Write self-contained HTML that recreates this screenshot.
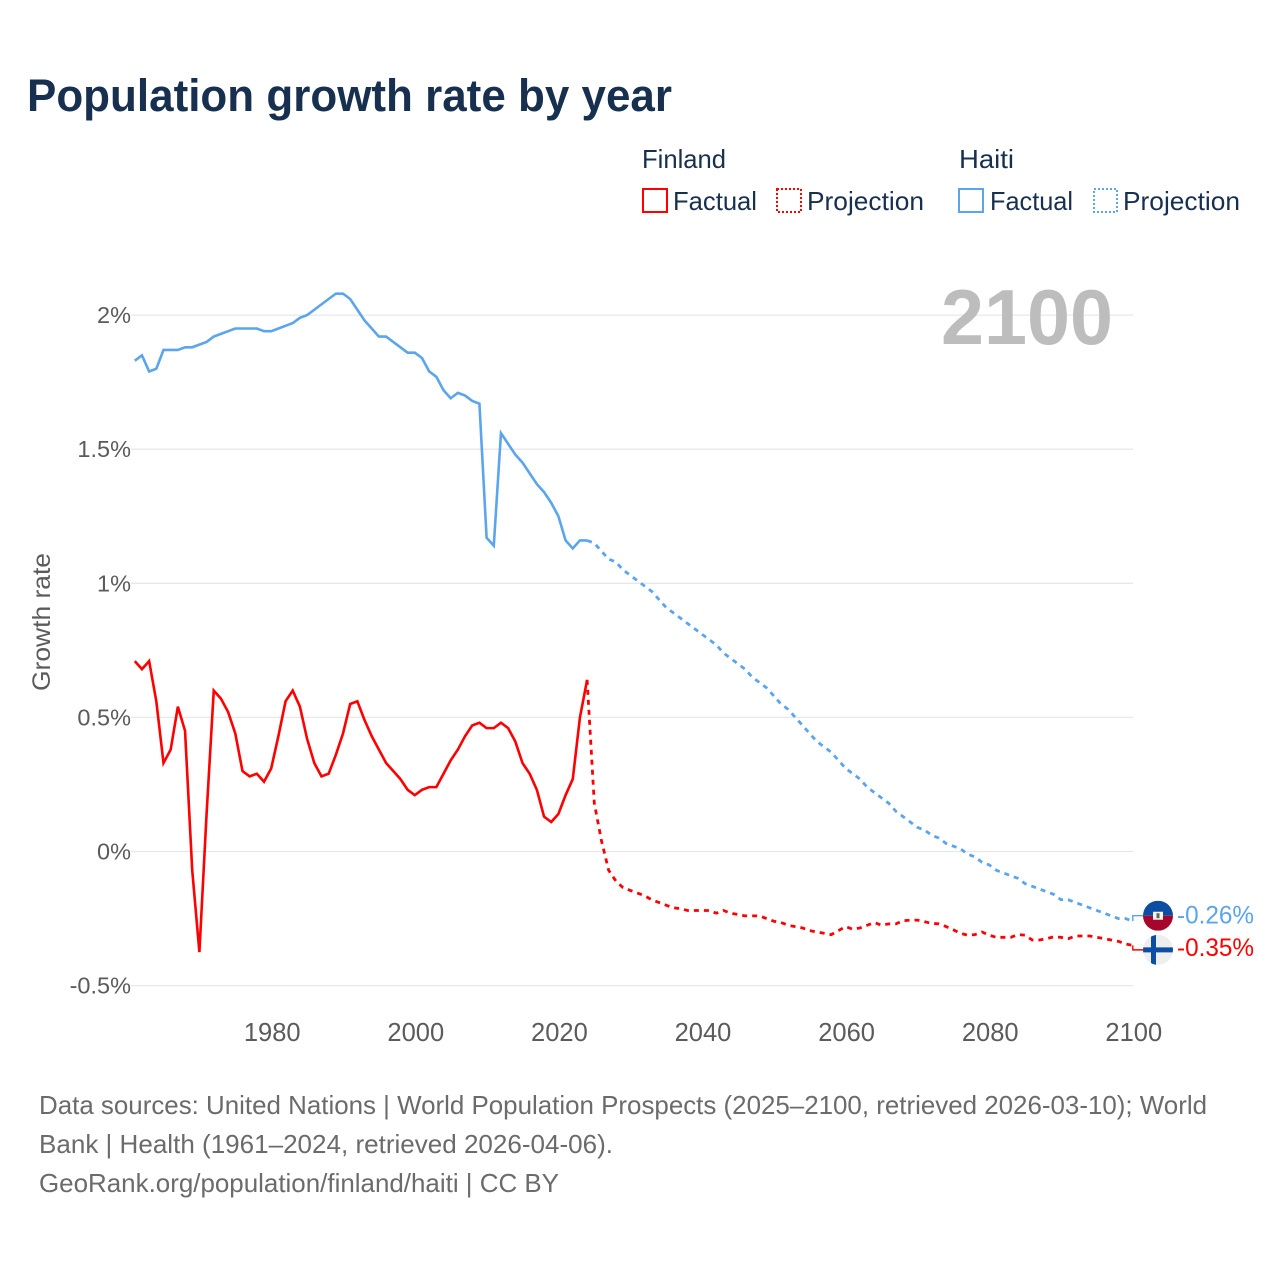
<!DOCTYPE html>
<html lang="en">
<head>
<meta charset="utf-8">
<title>Population growth rate by year</title>
<style>
html,body{margin:0;padding:0;background:#fff;width:1280px;height:1280px;overflow:hidden}
svg{display:block}
text{font-family:"Liberation Sans",sans-serif}
</style>
</head>
<body>
<svg id="chart" xmlns="http://www.w3.org/2000/svg" width="1280" height="1280" viewBox="0 0 1280 1280">
  <rect width="1280" height="1280" fill="#fff"/>
  <text x="27" y="111" font-size="45" font-weight="700" fill="#18304f" textLength="645" lengthAdjust="spacingAndGlyphs">Population growth rate by year</text>

  <g font-size="26" fill="#18304f">
    <text x="642" y="168" textLength="84" lengthAdjust="spacingAndGlyphs">Finland</text>
    <rect x="643" y="189" width="24" height="23" fill="none" stroke="#ff0000" stroke-width="2" shape-rendering="crispEdges"/>
    <text x="673" y="210" textLength="84" lengthAdjust="spacingAndGlyphs">Factual</text>
    <rect x="777" y="189" width="24" height="23" fill="none" stroke="#ff0000" stroke-width="2" stroke-dasharray="2 2" shape-rendering="crispEdges"/>
    <text x="807" y="210" textLength="117" lengthAdjust="spacingAndGlyphs">Projection</text>
    <text x="959" y="168" textLength="55" lengthAdjust="spacingAndGlyphs">Haiti</text>
    <rect x="959" y="189" width="24" height="23" fill="none" stroke="#5ba5ee" stroke-width="2" shape-rendering="crispEdges"/>
    <text x="990" y="210" textLength="83" lengthAdjust="spacingAndGlyphs">Factual</text>
    <rect x="1094" y="189" width="23" height="23" fill="none" stroke="#5ba5ee" stroke-width="2" stroke-dasharray="2 2" shape-rendering="crispEdges"/>
    <text x="1123" y="210" textLength="117" lengthAdjust="spacingAndGlyphs">Projection</text>
  </g>

  <g id="grid"></g>
  <g id="ytick-labels"></g>
  <g id="xtick-labels"></g>
  <text transform="translate(50 622) rotate(-90)" text-anchor="middle" font-size="25" fill="#5b5b5b" textLength="138" lengthAdjust="spacingAndGlyphs">Growth rate</text>
  <text x="941" y="344" font-size="78" font-weight="700" fill="#bdbdbd" textLength="172" lengthAdjust="spacingAndGlyphs">2100</text>

  <g id="series"></g>

  <defs>
    <clipPath id="clip-haiti"><circle id="clip-haiti-c" cx="1158" r="15"/></clipPath>
    <clipPath id="clip-finland"><circle id="clip-finland-c" cx="1158" r="15"/></clipPath>
  </defs>
  <g id="flag-finland" clip-path="url(#clip-finland)"></g>
  <g id="flag-haiti" clip-path="url(#clip-haiti)"></g>
  <g id="end-labels"></g>

  <g font-size="26" fill="#6b6b6b">
    <text x="39" y="1114" textLength="1168" lengthAdjust="spacingAndGlyphs">Data sources: United Nations | World Population Prospects (2025–2100, retrieved 2026-03-10); World</text>
    <text x="39" y="1153" textLength="574" lengthAdjust="spacingAndGlyphs">Bank | Health (1961–2024, retrieved 2026-04-06).</text>
    <text x="39" y="1192" textLength="520" lengthAdjust="spacingAndGlyphs">GeoRank.org/population/finland/haiti | CC BY</text>
  </g>
</svg>
<script>
const factualStartYear = 1961;
const projectionStartYear = 2024;
const yTicks = [-0.5, 0, 0.5, 1, 1.5, 2];
const yTickLabels = ["-0.5%", "0%", "0.5%", "1%", "1.5%", "2%"];
const xTicks = [1980, 2000, 2020, 2040, 2060, 2080, 2100];
const xTickLabels = ["1980", "2000", "2020", "2040", "2060", "2080", "2100"];
const finlandFactual = [0.71,0.68,0.71,0.56,0.33,0.38,0.54,0.45,-0.07,-0.375,0.14,0.60,0.57,0.52,0.44,0.30,0.28,0.29,0.26,0.31,0.43,0.56,0.60,0.54,0.42,0.33,0.28,0.29,0.36,0.44,0.55,0.56,0.49,0.43,0.38,0.33,0.30,0.27,0.23,0.21,0.23,0.24,0.24,0.29,0.34,0.38,0.43,0.47,0.48,0.46,0.46,0.48,0.46,0.41,0.33,0.29,0.23,0.13,0.11,0.14,0.21,0.27,0.50,0.64];
const finlandProjection = [0.64,0.18,0.04,-0.07,-0.11,-0.135,-0.145,-0.155,-0.165,-0.18,-0.19,-0.20,-0.21,-0.213,-0.22,-0.22,-0.22,-0.22,-0.23,-0.22,-0.23,-0.235,-0.24,-0.24,-0.24,-0.25,-0.26,-0.265,-0.275,-0.28,-0.285,-0.295,-0.30,-0.305,-0.31,-0.295,-0.28,-0.29,-0.285,-0.275,-0.265,-0.275,-0.27,-0.27,-0.258,-0.256,-0.256,-0.262,-0.268,-0.27,-0.28,-0.292,-0.305,-0.312,-0.31,-0.30,-0.312,-0.32,-0.32,-0.32,-0.31,-0.312,-0.33,-0.33,-0.325,-0.318,-0.32,-0.325,-0.315,-0.315,-0.315,-0.32,-0.325,-0.33,-0.335,-0.345,-0.35];
const haitiFactual = [1.83,1.85,1.79,1.80,1.87,1.87,1.87,1.88,1.88,1.89,1.90,1.92,1.93,1.94,1.95,1.95,1.95,1.95,1.94,1.94,1.95,1.96,1.97,1.99,2.00,2.02,2.04,2.06,2.08,2.08,2.06,2.02,1.98,1.95,1.92,1.92,1.90,1.88,1.86,1.86,1.84,1.79,1.77,1.72,1.69,1.71,1.70,1.68,1.67,1.17,1.14,1.56,1.52,1.48,1.45,1.41,1.37,1.34,1.30,1.25,1.16,1.13,1.16,1.16];
const haitiProjection = [1.16,1.15,1.12,1.09,1.08,1.05,1.03,1.01,0.99,0.97,0.94,0.91,0.89,0.87,0.85,0.83,0.81,0.79,0.77,0.74,0.72,0.70,0.68,0.65,0.63,0.61,0.58,0.55,0.53,0.50,0.47,0.44,0.41,0.39,0.37,0.34,0.31,0.29,0.27,0.24,0.22,0.20,0.18,0.15,0.13,0.11,0.09,0.08,0.06,0.05,0.03,0.02,0.01,-0.01,-0.02,-0.04,-0.05,-0.07,-0.08,-0.09,-0.10,-0.12,-0.13,-0.14,-0.15,-0.16,-0.18,-0.18,-0.19,-0.20,-0.21,-0.22,-0.23,-0.24,-0.25,-0.25,-0.26];

const NS = "http://www.w3.org/2000/svg";
function xScale(year) { return 271.2 + (year - 1980) * 7.18; }
function yScale(value) { return 851.5 - value * 268.2; }
function buildPath(values, startYear) {
  return values.map(function (v, i) {
    return (i ? "L" : "M") + xScale(startYear + i).toFixed(2) + " " + yScale(v).toFixed(2);
  }).join(" ");
}
function fmtPct(v) { return v.toFixed(2) + "%"; }

const grid = document.getElementById("grid");
const yLabels = document.getElementById("ytick-labels");
yTicks.forEach(function (t, i) {
  const line = document.createElementNS(NS, "line");
  
  
  line.setAttribute("x1", 131);
  line.setAttribute("x2", 1133);
  line.setAttribute("y1", yScale(t));
  line.setAttribute("y2", yScale(t));
  line.setAttribute("stroke", "#e8e8e8");
  line.setAttribute("stroke-width", "1.3");
  grid.appendChild(line);
  const label = document.createElementNS(NS, "text");
  
  
  label.setAttribute("x", 131);
  label.setAttribute("y", yScale(t) + 8);
  label.setAttribute("text-anchor", "end");
  label.setAttribute("font-size", "23.5");
  label.setAttribute("fill", "#5b5b5b");
  label.textContent = yTickLabels[i];
  yLabels.appendChild(label);
});

const xLabels = document.getElementById("xtick-labels");
xTicks.forEach(function (t, i) {
  const label = document.createElementNS(NS, "text");
  
  
  label.setAttribute("x", xScale(t) + 1);
  label.setAttribute("y", 1041);
  label.setAttribute("text-anchor", "middle");
  label.setAttribute("font-size", "25.5");
  label.setAttribute("fill", "#5b5b5b");
  label.textContent = xTickLabels[i];
  xLabels.appendChild(label);
});

const series = document.getElementById("series");

const haitiFactualLine = document.createElementNS(NS, "path");


haitiFactualLine.setAttribute("d", buildPath(haitiFactual, factualStartYear));
haitiFactualLine.setAttribute("fill", "none");
haitiFactualLine.setAttribute("stroke", "#5ba5ee");
haitiFactualLine.setAttribute("stroke-width", "2.6");
series.appendChild(haitiFactualLine);

const haitiProjectionLine = document.createElementNS(NS, "path");


haitiProjectionLine.setAttribute("d", buildPath(haitiProjection, projectionStartYear));
haitiProjectionLine.setAttribute("fill", "none");
haitiProjectionLine.setAttribute("stroke", "#5ba5ee");
haitiProjectionLine.setAttribute("stroke-width", "2.8");
haitiProjectionLine.setAttribute("stroke-dasharray", "5 5");
series.appendChild(haitiProjectionLine);

const finlandFactualLine = document.createElementNS(NS, "path");


finlandFactualLine.setAttribute("d", buildPath(finlandFactual, factualStartYear));
finlandFactualLine.setAttribute("fill", "none");
finlandFactualLine.setAttribute("stroke", "#ff0000");
finlandFactualLine.setAttribute("stroke-width", "2.6");
series.appendChild(finlandFactualLine);

const finlandProjectionLine = document.createElementNS(NS, "path");


finlandProjectionLine.setAttribute("d", buildPath(finlandProjection, projectionStartYear));
finlandProjectionLine.setAttribute("fill", "none");
finlandProjectionLine.setAttribute("stroke", "#ff0000");
finlandProjectionLine.setAttribute("stroke-width", "2.8");
finlandProjectionLine.setAttribute("stroke-dasharray", "5 5");
series.appendChild(finlandProjectionLine);

/* end markers sit next to the last value, nudged apart so the labels do not collide */
const haitiLast = haitiProjection[haitiProjection.length - 1];
const finlandLast = finlandProjection[finlandProjection.length - 1];
const haitiY = yScale(haitiLast) - 5.5;
const finlandY = yScale(finlandLast) + 4.5;
const endX = xScale(2100);

const haitiConnector = document.createElementNS(NS, "path");


haitiConnector.setAttribute("d", "M" + endX + " " + yScale(haitiLast) + " V" + haitiY + " H1144");
haitiConnector.setAttribute("fill", "none");
haitiConnector.setAttribute("stroke", "#5ba5ee");
haitiConnector.setAttribute("stroke-width", "1.4");
series.appendChild(haitiConnector);

const finlandConnector = document.createElementNS(NS, "path");


finlandConnector.setAttribute("d", "M" + endX + " " + yScale(finlandLast) + " V" + finlandY + " H1144");
finlandConnector.setAttribute("fill", "none");
finlandConnector.setAttribute("stroke", "#ff0000");
finlandConnector.setAttribute("stroke-width", "1.4");
series.appendChild(finlandConnector);

document.getElementById("clip-haiti-c").setAttribute("cy", haitiY);
document.getElementById("clip-finland-c").setAttribute("cy", finlandY);

const flagF = document.getElementById("flag-finland");
flagF.innerHTML =
  '<rect x="1143" y="' + (finlandY - 15) + '" width="30" height="30" fill="#eeeeee"/>' +
  '<rect x="1143" y="' + (finlandY - 2.5) + '" width="30" height="5" fill="#0b4ea2"/>' +
  '<rect x="1151" y="' + (finlandY - 15) + '" width="5" height="30" fill="#0b4ea2"/>';

const flagH = document.getElementById("flag-haiti");
flagH.innerHTML =
  '<rect x="1143" y="' + (haitiY - 15) + '" width="30" height="15" fill="#0b4ea2"/>' +
  '<rect x="1143" y="' + haitiY + '" width="30" height="15" fill="#a6062c"/>' +
  '<rect x="1153" y="' + (haitiY - 4) + '" width="10" height="8" fill="#f4f4f4"/>' +
  '<rect x="1156.5" y="' + (haitiY - 2.5) + '" width="3" height="5" fill="#6a6a4a"/>';

const endLabels = document.getElementById("end-labels");

const haitiEnd = document.createElementNS(NS, "text");


haitiEnd.setAttribute("x", 1177);
haitiEnd.setAttribute("y", haitiY + 8);
haitiEnd.setAttribute("font-size", "25");
haitiEnd.setAttribute("fill", "#5ba5ee");
haitiEnd.setAttribute("textLength", "77");
haitiEnd.setAttribute("lengthAdjust", "spacingAndGlyphs");
haitiEnd.textContent = fmtPct(haitiLast);
endLabels.appendChild(haitiEnd);

const finlandEnd = document.createElementNS(NS, "text");


finlandEnd.setAttribute("x", 1177);
finlandEnd.setAttribute("y", finlandY + 6);
finlandEnd.setAttribute("font-size", "25");
finlandEnd.setAttribute("fill", "#ff0000");
finlandEnd.setAttribute("textLength", "77");
finlandEnd.setAttribute("lengthAdjust", "spacingAndGlyphs");
finlandEnd.textContent = fmtPct(finlandLast);
endLabels.appendChild(finlandEnd);
</script>
</body>
</html>
